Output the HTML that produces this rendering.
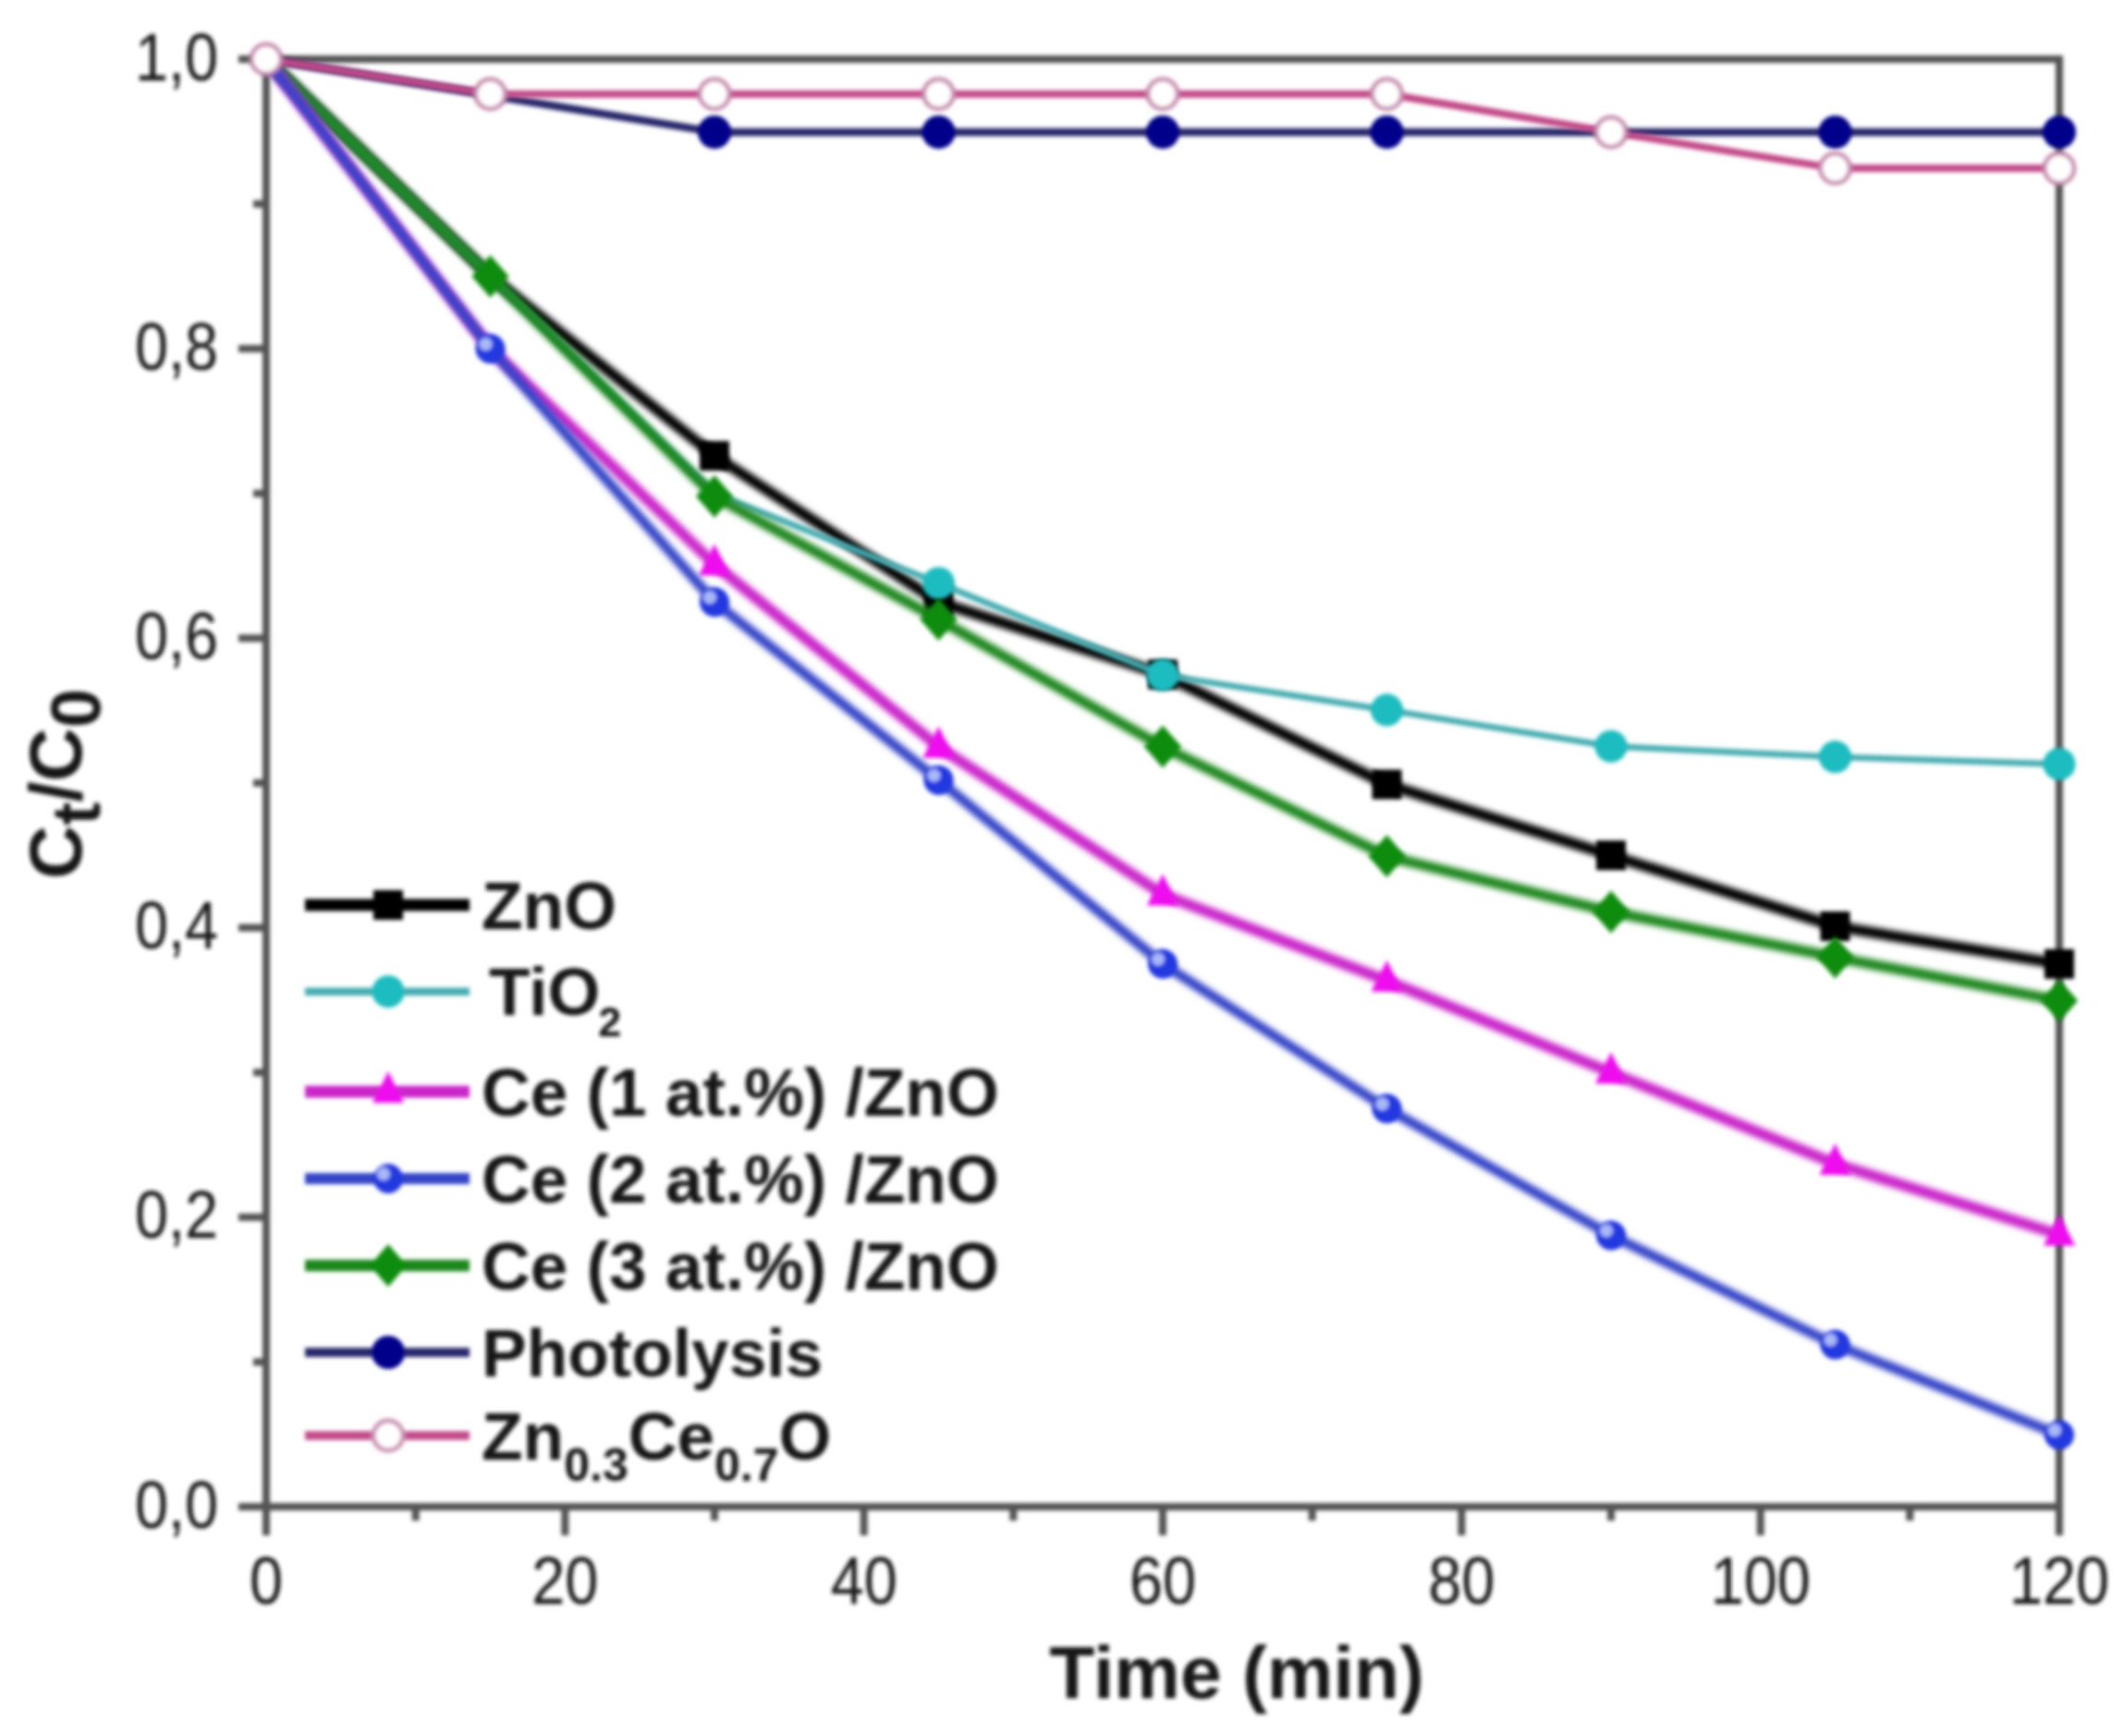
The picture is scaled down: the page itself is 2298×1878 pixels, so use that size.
<!DOCTYPE html>
<html lang="en"><head><meta charset="utf-8"><title>Ct/C0 vs Time</title>
<style>
html,body{margin:0;padding:0;background:#fff;}
body{width:2298px;height:1878px;overflow:hidden;}
svg{display:block;}
text{font-family:"Liberation Sans",Arial,sans-serif;}
.tk{font-size:72px;fill:#161616;}
.lg{font-size:73px;font-weight:bold;fill:#141414;}
.ax{font-size:80.5px;font-weight:bold;fill:#141414;}
</style></head><body>
<svg width="2298" height="1878" viewBox="0 0 2298 1878">
<defs>
<filter id="soft" x="0" y="0" width="2298" height="1878" filterUnits="userSpaceOnUse"><feGaussianBlur stdDeviation="2.2"/></filter>
<filter id="softer" x="0" y="0" width="2298" height="1878" filterUnits="userSpaceOnUse"><feGaussianBlur stdDeviation="3"/></filter>
</defs>
<rect width="2298" height="1878" fill="#ffffff"/>
<g id="frame" filter="url(#soft)">
<g stroke="#525252" stroke-width="8" fill="none" stroke-linecap="butt">
<line x1="288.0" y1="60.0" x2="288.0" y2="1661"/>
<line x1="2228.0" y1="60.0" x2="2228.0" y2="1661"/>
<line x1="258.0" y1="1630.0" x2="2232.0" y2="1630.0"/>
<line x1="258.0" y1="64.0" x2="2232.0" y2="64.0"/>
<line x1="274.0" y1="1473.4" x2="288.0" y2="1473.4"/>
<line x1="258.0" y1="1316.8" x2="288.0" y2="1316.8"/>
<line x1="274.0" y1="1160.2" x2="288.0" y2="1160.2"/>
<line x1="258.0" y1="1003.6" x2="288.0" y2="1003.6"/>
<line x1="274.0" y1="847.0" x2="288.0" y2="847.0"/>
<line x1="258.0" y1="690.4" x2="288.0" y2="690.4"/>
<line x1="274.0" y1="533.8" x2="288.0" y2="533.8"/>
<line x1="258.0" y1="377.2" x2="288.0" y2="377.2"/>
<line x1="274.0" y1="220.6" x2="288.0" y2="220.6"/>
<line x1="449.7" y1="1630.0" x2="449.7" y2="1645"/>
<line x1="611.3" y1="1630.0" x2="611.3" y2="1661"/>
<line x1="773.0" y1="1630.0" x2="773.0" y2="1645"/>
<line x1="934.7" y1="1630.0" x2="934.7" y2="1661"/>
<line x1="1096.3" y1="1630.0" x2="1096.3" y2="1645"/>
<line x1="1258.0" y1="1630.0" x2="1258.0" y2="1661"/>
<line x1="1419.7" y1="1630.0" x2="1419.7" y2="1645"/>
<line x1="1581.3" y1="1630.0" x2="1581.3" y2="1661"/>
<line x1="1743.0" y1="1630.0" x2="1743.0" y2="1645"/>
<line x1="1904.7" y1="1630.0" x2="1904.7" y2="1661"/>
<line x1="2066.3" y1="1630.0" x2="2066.3" y2="1645"/>
</g>
<text class="tk" transform="translate(236,1652.5) scale(0.9,1)" text-anchor="end">0,0</text>
<text class="tk" transform="translate(236,1339.3) scale(0.9,1)" text-anchor="end">0,2</text>
<text class="tk" transform="translate(236,1026.1) scale(0.9,1)" text-anchor="end">0,4</text>
<text class="tk" transform="translate(236,712.9) scale(0.9,1)" text-anchor="end">0,6</text>
<text class="tk" transform="translate(236,399.7) scale(0.9,1)" text-anchor="end">0,8</text>
<text class="tk" transform="translate(236,86.5) scale(0.9,1)" text-anchor="end">1,0</text>
<text class="tk" transform="translate(288.0,1735) scale(0.9,1)" text-anchor="middle">0</text>
<text class="tk" transform="translate(611.3,1735) scale(0.9,1)" text-anchor="middle">20</text>
<text class="tk" transform="translate(934.7,1735) scale(0.9,1)" text-anchor="middle">40</text>
<text class="tk" transform="translate(1258.0,1735) scale(0.9,1)" text-anchor="middle">60</text>
<text class="tk" transform="translate(1581.3,1735) scale(0.9,1)" text-anchor="middle">80</text>
<text class="tk" transform="translate(1904.7,1735) scale(0.9,1)" text-anchor="middle">100</text>
<text class="tk" transform="translate(2228.0,1735) scale(0.9,1)" text-anchor="middle">120</text>
<text class="ax" x="1338" y="1837" text-anchor="middle">Time (min)</text>
<text class="ax" transform="translate(88,848) rotate(-90)" text-anchor="middle">C<tspan dy="20" font-size="75">t</tspan><tspan dy="-20">/C</tspan><tspan dy="20" font-size="76">0</tspan></text>
</g>
<g id="s-zno">
<polyline filter="url(#softer)" points="288.0,64.0 530.5,298.9 773.0,493.1 1015.5,651.2 1258.0,729.6 1500.5,848.6 1743.0,925.3 1985.5,1002.0 2228.0,1042.8" fill="none" stroke="#000000" stroke-width="11.8" stroke-linejoin="round"/>
<g filter="url(#soft)">
<rect x="757.0" y="477.1" width="32" height="32" fill="#000000"/>
<rect x="999.5" y="635.2" width="32" height="32" fill="#000000"/>
<rect x="1242.0" y="713.6" width="32" height="32" fill="#000000"/>
<rect x="1484.5" y="832.6" width="32" height="32" fill="#000000"/>
<rect x="1727.0" y="909.3" width="32" height="32" fill="#000000"/>
<rect x="1969.5" y="986.0" width="32" height="32" fill="#000000"/>
<rect x="2212.0" y="1026.8" width="32" height="32" fill="#000000"/>
</g></g>
<g id="s-tio2">
<polyline filter="url(#soft)" points="288.0,64.0 530.5,298.9 773.0,533.8 1015.5,630.9 1258.0,730.3 1500.5,768.1 1743.0,807.4 1985.5,818.8 2228.0,826.6" fill="none" stroke="#44acb0" stroke-width="6.8" stroke-linejoin="round"/>
<g filter="url(#soft)">
<circle cx="1015.5" cy="630.9" r="17.5" fill="#1cbcc0"/>
<circle cx="1258.0" cy="730.3" r="17.5" fill="#1cbcc0"/>
<circle cx="1500.5" cy="768.1" r="17.5" fill="#1cbcc0"/>
<circle cx="1743.0" cy="807.4" r="17.5" fill="#1cbcc0"/>
<circle cx="1985.5" cy="818.8" r="17.5" fill="#1cbcc0"/>
<circle cx="2228.0" cy="826.6" r="17.5" fill="#1cbcc0"/>
</g></g>
<g id="s-ce3">
<polyline filter="url(#softer)" points="288.0,64.0 530.5,298.9 773.0,536.9 1015.5,670.0 1258.0,807.8 1500.5,926.2 1743.0,986.4 1985.5,1035.5 2228.0,1082.5" fill="none" stroke="#1a861a" stroke-width="11.3" stroke-linejoin="round"/>
<g filter="url(#soft)">
<polygon points="530.5,275.9 550.5,298.9 530.5,321.9 510.5,298.9" fill="#0c8c0c"/>
<polygon points="773.0,513.9 793.0,536.9 773.0,559.9 753.0,536.9" fill="#0c8c0c"/>
<polygon points="1015.5,647.0 1035.5,670.0 1015.5,693.0 995.5,670.0" fill="#0c8c0c"/>
<polygon points="1258.0,784.8 1278.0,807.8 1258.0,830.8 1238.0,807.8" fill="#0c8c0c"/>
<polygon points="1500.5,903.2 1520.5,926.2 1500.5,949.2 1480.5,926.2" fill="#0c8c0c"/>
<polygon points="1743.0,963.4 1763.0,986.4 1743.0,1009.4 1723.0,986.4" fill="#0c8c0c"/>
<polygon points="1985.5,1012.5 2005.5,1035.5 1985.5,1058.5 1965.5,1035.5" fill="#0c8c0c"/>
<polygon points="2228.0,1059.5 2248.0,1082.5 2228.0,1105.5 2208.0,1082.5" fill="#0c8c0c"/>
</g></g>
<g id="s-ce1">
<polyline filter="url(#softer)" points="288.0,64.0 530.5,377.2 773.0,610.5 1015.5,807.8 1258.0,967.6 1500.5,1060.8 1743.0,1160.2 1985.5,1258.9 2228.0,1335.6" fill="none" stroke="#ca28ca" stroke-width="12" stroke-linejoin="round"/>
<g filter="url(#soft)">
<polygon points="773.0,588.5 790.0,622.5 756.0,622.5" fill="#ee0cee"/>
<polygon points="1015.5,785.8 1032.5,819.8 998.5,819.8" fill="#ee0cee"/>
<polygon points="1258.0,945.6 1275.0,979.6 1241.0,979.6" fill="#ee0cee"/>
<polygon points="1500.5,1038.8 1517.5,1072.8 1483.5,1072.8" fill="#ee0cee"/>
<polygon points="1743.0,1138.2 1760.0,1172.2 1726.0,1172.2" fill="#ee0cee"/>
<polygon points="1985.5,1236.9 2002.5,1270.9 1968.5,1270.9" fill="#ee0cee"/>
<polygon points="2228.0,1313.6 2245.0,1347.6 2211.0,1347.6" fill="#ee0cee"/>
</g></g>
<g id="s-ce2">
<polyline filter="url(#softer)" points="288.0,64.0 530.5,377.2 773.0,651.2 1015.5,843.9 1258.0,1042.8 1500.5,1199.3 1743.0,1336.4 1985.5,1454.6 2228.0,1552.2" fill="none" stroke="#3444c8" stroke-width="10.8" stroke-linejoin="round"/>
<g filter="url(#soft)">
<circle cx="530.5" cy="377.2" r="16" fill="#2438e0"/><circle cx="525.5" cy="372.2" r="7" fill="#a8b8f8"/>
<circle cx="773.0" cy="651.2" r="16" fill="#2438e0"/><circle cx="768.0" cy="646.2" r="7" fill="#a8b8f8"/>
<circle cx="1015.5" cy="843.9" r="16" fill="#2438e0"/><circle cx="1010.5" cy="838.9" r="7" fill="#a8b8f8"/>
<circle cx="1258.0" cy="1042.8" r="16" fill="#2438e0"/><circle cx="1253.0" cy="1037.8" r="7" fill="#a8b8f8"/>
<circle cx="1500.5" cy="1199.3" r="16" fill="#2438e0"/><circle cx="1495.5" cy="1194.3" r="7" fill="#a8b8f8"/>
<circle cx="1743.0" cy="1336.4" r="16" fill="#2438e0"/><circle cx="1738.0" cy="1331.4" r="7" fill="#a8b8f8"/>
<circle cx="1985.5" cy="1454.6" r="16" fill="#2438e0"/><circle cx="1980.5" cy="1449.6" r="7" fill="#a8b8f8"/>
<circle cx="2228.0" cy="1552.2" r="16" fill="#2438e0"/><circle cx="2223.0" cy="1547.2" r="7" fill="#a8b8f8"/>
</g></g>
<g id="s-pho">
<polyline filter="url(#soft)" points="288.0,64.0 530.5,103.2 773.0,142.9 1015.5,142.9 1258.0,142.9 1500.5,142.9 1743.0,142.9 1985.5,142.9 2228.0,142.9" fill="none" stroke="#26266a" stroke-width="8.5" stroke-linejoin="round"/>
<g filter="url(#soft)">
<circle cx="773.0" cy="142.9" r="18" fill="#04048a"/>
<circle cx="1015.5" cy="142.9" r="18" fill="#04048a"/>
<circle cx="1258.0" cy="142.9" r="18" fill="#04048a"/>
<circle cx="1500.5" cy="142.9" r="18" fill="#04048a"/>
<circle cx="1985.5" cy="142.9" r="18" fill="#04048a"/>
<circle cx="2228.0" cy="142.9" r="18" fill="#04048a"/>
</g></g>
<g id="s-zce">
<polyline filter="url(#soft)" points="288.0,64.0 530.5,101.7 773.0,101.7 1015.5,101.7 1258.0,101.7 1500.5,101.7 1743.0,142.9 1985.5,182.1 2228.0,182.1" fill="none" stroke="#c24a88" stroke-width="8" stroke-linejoin="round"/>
<g filter="url(#soft)">
<circle cx="288.0" cy="64.0" r="16" fill="#ffffff" stroke="#c88fb0" stroke-width="5"/>
<circle cx="530.5" cy="101.7" r="16" fill="#ffffff" stroke="#c88fb0" stroke-width="5"/>
<circle cx="773.0" cy="101.7" r="16" fill="#ffffff" stroke="#c88fb0" stroke-width="5"/>
<circle cx="1015.5" cy="101.7" r="16" fill="#ffffff" stroke="#c88fb0" stroke-width="5"/>
<circle cx="1258.0" cy="101.7" r="16" fill="#ffffff" stroke="#c88fb0" stroke-width="5"/>
<circle cx="1500.5" cy="101.7" r="16" fill="#ffffff" stroke="#c88fb0" stroke-width="5"/>
<circle cx="1743.0" cy="142.9" r="16" fill="#ffffff" stroke="#c88fb0" stroke-width="5"/>
<circle cx="1985.5" cy="182.1" r="16" fill="#ffffff" stroke="#c88fb0" stroke-width="5"/>
<circle cx="2228.0" cy="182.1" r="16" fill="#ffffff" stroke="#c88fb0" stroke-width="5"/>
</g></g>
<g id="legend" filter="url(#soft)">
<line x1="330" y1="979" x2="508" y2="979" stroke="#000000" stroke-width="13"/>
<rect x="404.0" y="963.0" width="32" height="32" fill="#000000"/>
<text class="lg" x="521" y="1004.5">ZnO</text>
<line x1="330" y1="1072.7" x2="508" y2="1072.7" stroke="#44acb0" stroke-width="8.5"/>
<circle cx="420.0" cy="1072.7" r="17.5" fill="#1cbcc0"/>
<text class="lg" x="529" y="1098.2">TiO<tspan dy="23" dx="-2" font-size="45">2</tspan></text>
<line x1="330" y1="1181" x2="508" y2="1181" stroke="#ca28ca" stroke-width="13"/>
<polygon points="420.0,1159.0 437.0,1193.0 403.0,1193.0" fill="#ee0cee"/>
<text class="lg" x="521" y="1206.5">Ce (1 at.%) /ZnO</text>
<line x1="330" y1="1275" x2="508" y2="1275" stroke="#3444c8" stroke-width="12"/>
<circle cx="420.0" cy="1275.0" r="16" fill="#2438e0"/><circle cx="415.0" cy="1270.0" r="7" fill="#a8b8f8"/>
<text class="lg" x="521" y="1300.5">Ce (2 at.%) /ZnO</text>
<line x1="330" y1="1369" x2="508" y2="1369" stroke="#1a861a" stroke-width="12.5"/>
<polygon points="420.0,1346.0 440.0,1369.0 420.0,1392.0 400.0,1369.0" fill="#0c8c0c"/>
<text class="lg" x="521" y="1394.5">Ce (3 at.%) /ZnO</text>
<line x1="330" y1="1463" x2="508" y2="1463" stroke="#26266a" stroke-width="10"/>
<circle cx="420.0" cy="1463.0" r="18" fill="#04048a"/>
<text class="lg" x="521" y="1488.5">Photolysis</text>
<line x1="330" y1="1553" x2="508" y2="1553" stroke="#c24a88" stroke-width="9.5"/>
<circle cx="420.0" cy="1553.0" r="16" fill="#ffffff" stroke="#c88fb0" stroke-width="5"/>
<text class="lg" x="521" y="1578.5">Zn<tspan dy="23" font-size="50">0.3</tspan><tspan dy="-23">Ce</tspan><tspan dy="23" font-size="50">0.7</tspan><tspan dy="-23">O</tspan></text>
</g>
</svg></body></html>
